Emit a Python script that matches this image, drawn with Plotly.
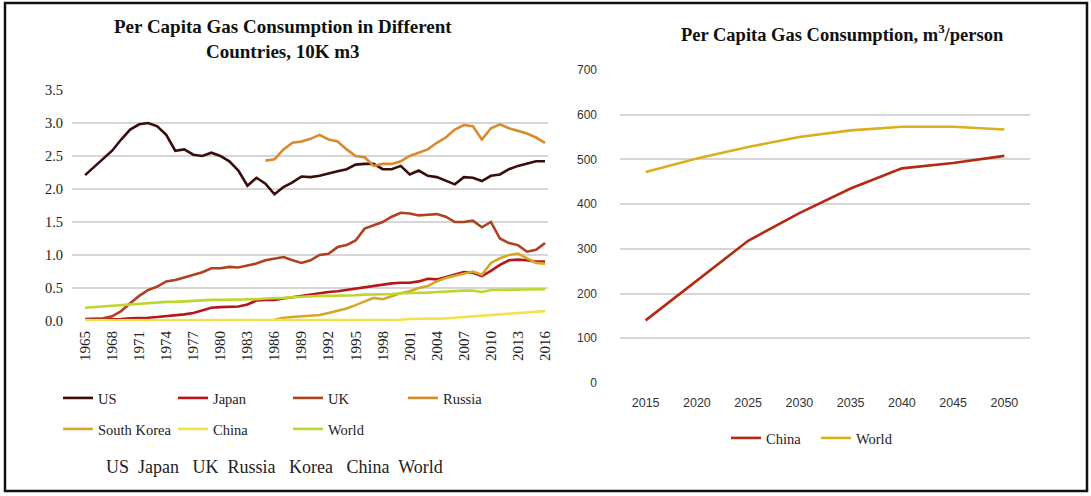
import plotly.graph_objects as go

W, H = 1091, 496

# ---------------- Left chart data (10K m3 per capita) ----------------
years = list(range(1965, 2017))

us = [2.21, 2.33, 2.45, 2.58, 2.75, 2.90, 2.98, 3.00, 2.95, 2.82,
      2.58, 2.60, 2.52, 2.50, 2.55, 2.50, 2.42, 2.28, 2.05, 2.17,
      2.08, 1.92, 2.03, 2.10, 2.19, 2.18, 2.20, 2.24, 2.27, 2.30,
      2.37, 2.38, 2.38, 2.30, 2.30, 2.35, 2.22, 2.28, 2.20, 2.18,
      2.13, 2.07, 2.18, 2.17, 2.12, 2.20, 2.22, 2.30, 2.35, 2.38,
      2.42, 2.42]

japan = [0.02, 0.02, 0.02, 0.03, 0.03, 0.04, 0.04, 0.05, 0.06, 0.07,
         0.08, 0.10, 0.12, 0.16, 0.20, 0.21, 0.21, 0.22, 0.25, 0.31,
         0.32, 0.32, 0.34, 0.36, 0.38, 0.41, 0.42, 0.44, 0.45, 0.47,
         0.49, 0.52, 0.54, 0.55, 0.57, 0.58, 0.58, 0.60, 0.64, 0.63,
         0.67, 0.70, 0.74, 0.73, 0.68, 0.76, 0.85, 0.92, 0.93, 0.92,
         0.90, 0.90]

uk = [0.03, 0.03, 0.04, 0.07, 0.15, 0.27, 0.38, 0.47, 0.52, 0.60,
      0.62, 0.66, 0.70, 0.74, 0.80, 0.80, 0.82, 0.81, 0.84, 0.87,
      0.92, 0.95, 0.97, 0.92, 0.88, 0.92, 1.00, 1.02, 1.12, 1.15,
      1.22, 1.40, 1.45, 1.50, 1.58, 1.64, 1.63, 1.60, 1.61, 1.62,
      1.58, 1.50, 1.50, 1.52, 1.42, 1.50, 1.25, 1.18, 1.15, 1.05,
      1.08, 1.18]

russia_years = list(range(1985, 2017))
russia = [2.43, 2.45, 2.60, 2.70, 2.72, 2.76, 2.82, 2.75, 2.72, 2.60,
          2.50, 2.48, 2.35, 2.38, 2.38, 2.42, 2.50, 2.55, 2.60, 2.70,
          2.78, 2.90, 2.97, 2.95, 2.75, 2.92, 2.98, 2.92, 2.88, 2.84,
          2.78, 2.70]

korea_years = list(range(1986, 2017))
korea = [0.02, 0.05, 0.06, 0.07, 0.08, 0.09, 0.12, 0.15, 0.19, 0.24,
         0.30, 0.35, 0.33, 0.38, 0.42, 0.45, 0.50, 0.53, 0.60, 0.65,
         0.68, 0.72, 0.75, 0.70, 0.88, 0.95, 1.00, 1.02, 0.95, 0.88,
         0.87]

china = [0.01, 0.01, 0.01, 0.01, 0.01, 0.01, 0.01, 0.01, 0.01, 0.01,
         0.01, 0.01, 0.01, 0.01, 0.01, 0.01, 0.01, 0.01, 0.01, 0.01,
         0.01, 0.01, 0.01, 0.01, 0.01, 0.01, 0.01, 0.01, 0.01, 0.01,
         0.01, 0.01, 0.02, 0.02, 0.02, 0.02, 0.03, 0.03, 0.03, 0.04,
         0.04, 0.05, 0.06, 0.07, 0.07, 0.08, 0.10, 0.11, 0.12, 0.13,
         0.14, 0.15]

world = [0.20, 0.21, 0.22, 0.23, 0.25, 0.26, 0.27, 0.28, 0.29, 0.29,
         0.29, 0.30, 0.30, 0.31, 0.32, 0.32, 0.32, 0.32, 0.32, 0.33,
         0.34, 0.34, 0.35, 0.36, 0.37, 0.37, 0.38, 0.38, 0.38, 0.38,
         0.39, 0.40, 0.40, 0.40, 0.41, 0.42, 0.42, 0.43, 0.43, 0.44,
         0.45, 0.45, 0.46, 0.46, 0.44, 0.47, 0.47, 0.47, 0.48, 0.48,
         0.48, 0.48]

left_ticks = list(range(1965, 2017, 3))

# ---------------- Right chart data (m3/person) ----------------
proj_years = ["2015", "2020", "2025", "2030", "2035", "2040", "2045", "2050"]
proj_china = [140, 230, 318, 380, 435, 480, 492, 508]
proj_world = [472, 502, 528, 550, 565, 573, 573, 567]

SERIF = "Liberation Serif, Times New Roman, serif"
SANS = "Liberation Sans, Arial, sans-serif"

fig = go.Figure()

left_series = [
    ("US", years, us, "#3a0d0d", "legend"),
    ("Japan", years, japan, "#b8141c", "legend"),
    ("UK", years, uk, "#b0401e", "legend"),
    ("Russia", russia_years, russia, "#d98a2c", "legend"),
    ("South Korea", korea_years, korea, "#d6a624", "legend2"),
    ("China", years, china, "#f1e24a", "legend2"),
    ("World", years, world, "#bfd62e", "legend2"),
]
for name, xs, ys, col, lg in left_series:
    fig.add_trace(go.Scatter(x=xs, y=ys, name=name, mode="lines",
                             line=dict(color=col, width=2.6),
                             xaxis="x", yaxis="y", legend=lg))

fig.add_trace(go.Scatter(x=proj_years, y=proj_china, name="China", mode="lines",
                         line=dict(color="#b32a12", width=2.6),
                         xaxis="x2", yaxis="y2", legend="legend3"))
fig.add_trace(go.Scatter(x=proj_years, y=proj_world, name="World", mode="lines",
                         line=dict(color="#d9b01c", width=2.6),
                         xaxis="x2", yaxis="y2", legend="legend3"))

def px(x):
    return x / W

def py(y):
    return (H - y) / H

grid = "#d6d6d6"
LEG_FONT = dict(family=SERIF, size=14.5, color="#222")

fig.update_layout(
    width=W, height=H,
    margin=dict(l=0, r=0, t=0, b=0, autoexpand=False),
    paper_bgcolor="white", plot_bgcolor="white",
    xaxis=dict(domain=[px(72), px(548)], range=[1963.55, 2016.33],
               tickmode="array", tickvals=left_ticks,
               ticktext=[str(t) for t in left_ticks], tickangle=-90,
               showgrid=False, zeroline=False, showline=False, ticks="",
               ticklabelstandoff=6,
               tickfont=dict(family=SERIF, size=15, color="#222"), anchor="y"),
    yaxis=dict(domain=[py(321), py(90)], range=[0, 3.5], dtick=0.5,
               tickformat=".1f", showgrid=True, gridcolor=grid, gridwidth=1.5,
               zeroline=False, showline=False, ticks="", ticklabelstandoff=8,
               tickfont=dict(family=SERIF, size=14.5, color="#222"), anchor="x"),
    xaxis2=dict(domain=[px(620), px(1030)], type="category", range=[-0.5, 7.5],
                showgrid=False, zeroline=False, showline=False, ticks="",
                ticklabelstandoff=10,
                tickfont=dict(family=SANS, size=12.5, color="#333"), anchor="y2"),
    yaxis2=dict(domain=[py(383), py(70)], range=[0, 700], dtick=100,
                showgrid=True, gridcolor=grid, gridwidth=1.5,
                zeroline=False, showline=False, ticks="", ticklabelstandoff=22,
                tickfont=dict(family=SANS, size=12, color="#333"), anchor="x2"),
    legend=dict(orientation="h", x=px(58), y=py(398), xanchor="left", yanchor="middle",
                entrywidth=70, entrywidthmode="pixels", font=LEG_FONT,
                bgcolor="rgba(0,0,0,0)"),
    legend2=dict(orientation="h", x=px(58), y=py(429), xanchor="left", yanchor="middle",
                 entrywidth=70, entrywidthmode="pixels", font=LEG_FONT,
                 bgcolor="rgba(0,0,0,0)"),
    legend3=dict(orientation="h", x=px(726), y=py(438), xanchor="left", yanchor="middle",
                 entrywidth=45, entrywidthmode="pixels", font=LEG_FONT,
                 bgcolor="rgba(0,0,0,0)"),
    showlegend=True,
)

fig.add_annotation(text="<b>Per Capita Gas Consumption in Different<br>Countries, 10K m3</b>",
                   x=px(283), y=py(39), xref="paper", yref="paper",
                   xanchor="center", yanchor="middle",
                   showarrow=False, align="center",
                   font=dict(family=SERIF, size=19, color="#111"))
fig.add_annotation(text="<b>Per Capita Gas Consumption, m<sup>3</sup>/person</b>",
                   x=px(842), y=py(33), xref="paper", yref="paper",
                   xanchor="center", yanchor="middle",
                   showarrow=False, align="center",
                   font=dict(family=SERIF, size=18.5, color="#111"))
fig.add_annotation(text="US  Japan   UK  Russia   Korea   China  World",
                   x=px(274), y=py(467), xref="paper", yref="paper",
                   xanchor="center", yanchor="middle",
                   showarrow=False, font=dict(family=SERIF, size=18, color="#222"))

fig.add_shape(type="rect", xref="paper", yref="paper",
              x0=px(5), x1=px(1087), y0=py(491), y1=py(3),
              line=dict(color="#111", width=2.5), fillcolor="rgba(0,0,0,0)")

fig.write_html("out.html", config={"displayModeBar": False},
               post_script="document.body.style.margin='0';document.body.style.overflow='hidden';")
